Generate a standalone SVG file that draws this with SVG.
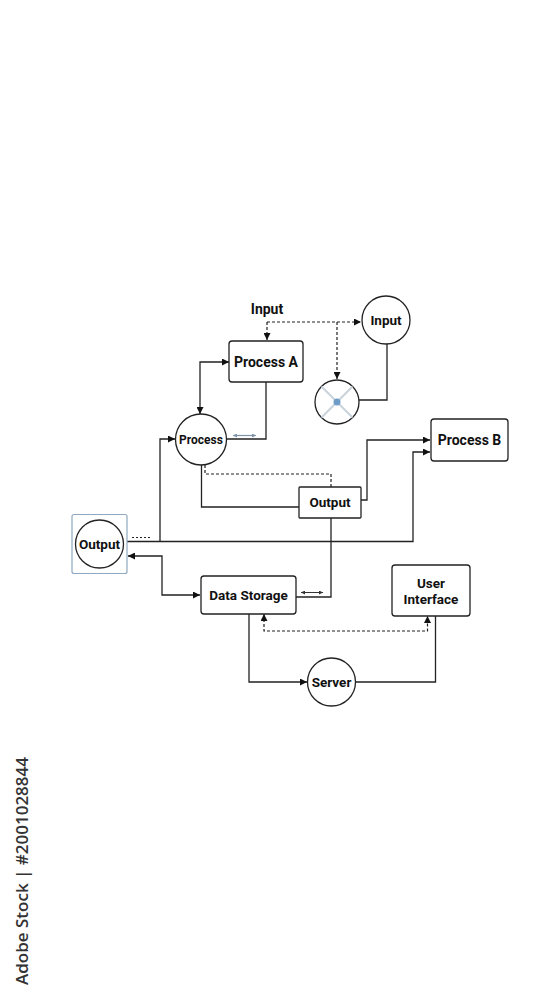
<svg xmlns="http://www.w3.org/2000/svg" width="545" height="1000" viewBox="0 0 545 1000">
<defs>
<marker id="ah" viewBox="0 0 10 10" refX="10" refY="5" markerWidth="7" markerHeight="7" markerUnits="userSpaceOnUse" orient="auto-start-reverse">
<path d="M0,0 L10,5 L0,10 z" fill="#111"/>
</marker>
<marker id="sm" viewBox="0 0 10 10" refX="10" refY="5" markerWidth="4" markerHeight="4" markerUnits="userSpaceOnUse" orient="auto-start-reverse">
<path d="M0,0 L10,5 L0,10 z" fill="#333"/>
</marker>
<marker id="smb" viewBox="0 0 10 10" refX="10" refY="5" markerWidth="4" markerHeight="4" markerUnits="userSpaceOnUse" orient="auto-start-reverse">
<path d="M0,0 L10,5 L0,10 z" fill="#7f93a8"/>
</marker>
</defs>
<style>
.n{fill:#fff;stroke:#222;stroke-width:1.3}
.t{font-family:Roboto,"Liberation Sans",sans-serif;font-weight:bold;fill:#111;text-anchor:middle}
.c{fill:none;stroke:#222;stroke-width:1.3}
.d{fill:none;stroke:#222;stroke-width:1.2;stroke-dasharray:3 2}
</style>
<rect width="545" height="1000" fill="#fff"/>

<g id="connectors">
<path class="d" d="M267,322 H361" marker-end="url(#ah)"/>
<path class="d" d="M267,322 V340" marker-end="url(#ah)"/>
<path class="d" d="M337,322 V379" marker-end="url(#ah)"/>
<path class="c" d="M387,344 V400 H359"/>
<path class="c" d="M229,362 H200 V414" marker-start="url(#ah)" marker-end="url(#ah)"/>
<path class="c" d="M266,382 V439 H227"/>
<path fill="none" stroke="#7f93a8" stroke-width="1.2" d="M233,435.5 H256" marker-start="url(#smb)" marker-end="url(#smb)"/>
<path class="c" d="M160,541.5 V439 H175" marker-end="url(#ah)"/>
<path class="d" d="M205,465 V474 H331 V487"/>
<path class="c" d="M201.5,465 V507 H299"/>
<path class="c" d="M361,500 H367 V440 H430" marker-end="url(#ah)"/>
<path class="c" d="M124,541.5 H413 V452 H430" marker-end="url(#ah)"/>
<path fill="none" stroke="#222" stroke-width="1.2" stroke-dasharray="2 2" d="M132,537.5 H152"/>
<path class="c" d="M331,518 V597 H296"/>
<path fill="none" stroke="#333" stroke-width="1" d="M301,592.5 H323" marker-start="url(#sm)" marker-end="url(#sm)"/>
<path class="c" d="M128,556 H162 V595 H200" marker-start="url(#ah)" marker-end="url(#ah)"/>
<path class="d" d="M264,614 V631 H427.5 V616" marker-start="url(#ah)" marker-end="url(#ah)"/>
<path class="c" d="M249,614 V682 H307" marker-end="url(#ah)"/>
<path class="c" d="M355,682 H435.5 V616"/>
</g>

<g id="input-label"><text class="t" x="267" y="314" font-size="14">Input</text></g>

<g id="process-a">
<rect class="n" x="229" y="341" width="74" height="41" rx="3"/>
<text class="t" x="266" y="367" font-size="14">Process A</text>
</g>

<g id="input">
<circle class="n" cx="386" cy="320" r="24"/>
<text class="t" x="386" y="325" font-size="13.5">Input</text>
</g>

<g id="junction">
<circle class="n" cx="337" cy="402" r="22"/>
<path d="M321.5,386.5 L352.5,417.5 M352.5,386.5 L321.5,417.5" stroke="#c9d3dc" stroke-width="2"/>
<circle cx="337" cy="402" r="3.5" fill="#6f9cc6"/>
</g>

<g id="process">
<circle class="n" cx="201" cy="439.5" r="25.5"/>
<text class="t" x="201" y="444" font-size="12">Process</text>
</g>

<g id="process-b">
<rect class="n" x="431" y="419" width="77" height="42" rx="3"/>
<text class="t" x="469.5" y="445" font-size="14">Process B</text>
</g>

<g id="output-box">
<rect class="n" x="299" y="487" width="62" height="31" rx="1"/>
<text class="t" x="330" y="507" font-size="13.5">Output</text>
</g>

<g id="output-circle">
<rect x="72" y="514.5" width="55" height="59" rx="2" fill="#fff" stroke="#8fa9c0" stroke-width="1.2"/>
<circle class="n" cx="99.5" cy="544" r="24"/>
<text class="t" x="99.5" y="549" font-size="13.5">Output</text>
</g>

<g id="data-storage">
<rect class="n" x="201" y="576" width="95" height="38" rx="3"/>
<text class="t" x="248.5" y="600" font-size="13.5">Data Storage</text>
</g>

<g id="user-interface">
<rect class="n" x="392" y="565" width="78" height="51" rx="3"/>
<text class="t" x="431" y="588" font-size="13.5">User</text>
<text class="t" x="431" y="604" font-size="13.5">Interface</text>
</g>

<g id="server">
<circle class="n" cx="331.5" cy="682" r="24"/>
<text class="t" x="331.5" y="687" font-size="13.5">Server</text>
</g>

<g id="credit">
<text x="28" y="985" transform="rotate(-90 28 985)" font-family="'Open Sans','Noto Sans',sans-serif" font-size="17" font-weight="600" fill="#333">Adobe Stock | #2001028844</text>
</g>
</svg>
